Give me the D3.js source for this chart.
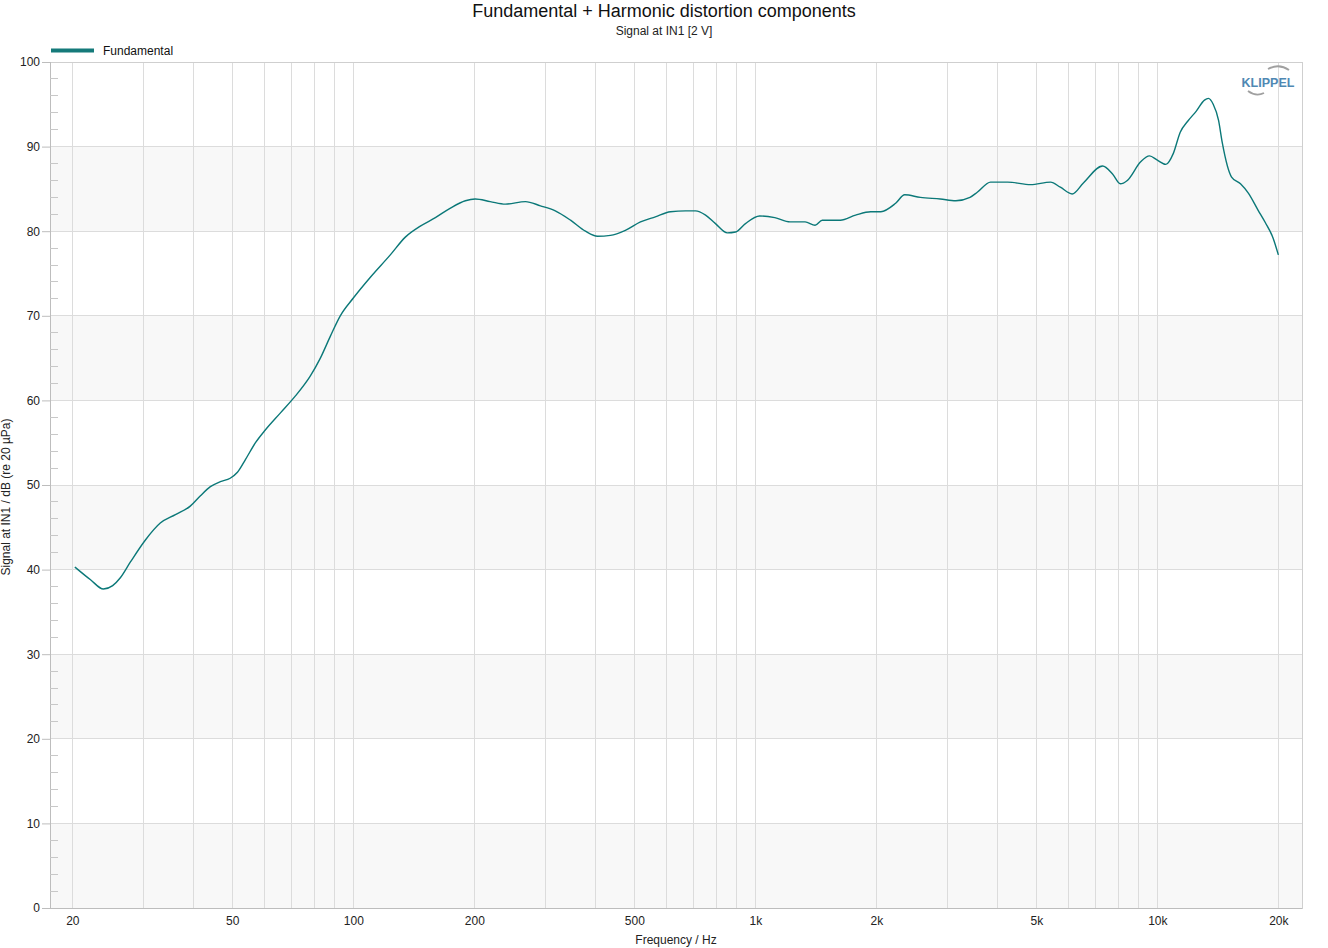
<!DOCTYPE html>
<html><head><meta charset="utf-8">
<script src="https://cdn.jsdelivr.net/npm/d3@7"></script>
<style>body{margin:0;background:#fff;}svg{display:block;font-family:"Liberation Sans",Arial,sans-serif;}</style>
</head><body>
<svg id="c" width="1328" height="948"></svg>
<script>
const freq = [20.3,22.2,23.9,25.2,26.3,27.9,30.4,33.1,36.1,39.3,41.6,44.1,46.7,49.4,51.5,53.9,57.1,60.4,65.8,71.7,78.2,82.8,87.7,92.8,100,110,123.6,134.7,146.8,160,174,190,201,219,239,268,292,318,347,378,405,436,475,518,564,615,671,710,752,796,852,893,945,1025,1118,1220,1330,1408,1467,1627,1776,1937,2052,2234,2353,2573,2885,3153,3420,3565,3847,4245,4840,5425,5737,6140,6546,7310,7727,8090,8420,9090,9560,10000,10500,10960,11400,11900,12500,13100,13400,13770,14200,14500,15300,16100,16840,17800,18570,19400,20000];
const fundamental = [40.3,38.8,37.7,38.1,39.0,40.9,43.5,45.5,46.5,47.5,48.7,49.8,50.4,50.8,51.5,53.0,55.0,56.5,58.5,60.5,62.9,65.0,67.6,70.0,72.1,74.5,77.2,79.3,80.6,81.6,82.7,83.6,83.8,83.5,83.2,83.5,83.0,82.4,81.3,80.0,79.4,79.5,80.1,81.1,81.7,82.3,82.4,82.4,81.9,80.9,79.8,79.9,80.9,81.8,81.6,81.1,81.1,80.7,81.3,81.3,81.9,82.3,82.3,83.3,84.3,84.0,83.8,83.6,84.0,84.6,85.8,85.8,85.5,85.8,85.2,84.4,85.7,87.7,86.8,85.6,86.0,88.2,88.9,88.4,87.9,89.2,91.7,93.0,94.2,95.5,95.7,95.0,93.1,90.5,86.4,85.6,84.5,82.5,81.0,79.2,77.2];
const xTickValues = [20,50,100,200,500,1000,2000,5000,10000,20000];
const xTickLabels = ["20","50","100","200","500","1k","2k","5k","10k","20k"];
const yTickValues = [0,10,20,30,40,50,60,70,80,90,100];

const svg = d3.select("#c");
const L=50, R=1302, T=62, B=908;
const x = d3.scaleLog().domain([17.6, 22900]).range([L, R]);
const y = d3.scaleLinear().domain([0, 100]).range([B, T]);

// bands
const bands = [0,20,40,60,80];
svg.append("g").selectAll("rect").data(bands).join("rect")
  .attr("x", L).attr("width", R-L)
  .attr("y", d=>y(d+10)).attr("height", d=>y(d)-y(d+10))
  .attr("fill", "#f8f8f8");

// vertical grid
const grid = [];
for (let dec of [10,100,1000,10000]) for (let m=1;m<10;m++){ const v=dec*m; if (v>=20 && v<=20000) grid.push(v); }
grid.push(20000);
svg.append("g").selectAll("line").data(grid).join("line")
  .attr("x1", d=>x(d)).attr("x2", d=>x(d)).attr("y1", T).attr("y2", B)
  .attr("stroke", "#dcdcdc").attr("stroke-width", 1).attr("shape-rendering","crispEdges");
// horizontal grid
svg.append("g").selectAll("line").data(yTickValues).join("line")
  .attr("x1", L).attr("x2", R).attr("y1", d=>y(d)).attr("y2", d=>y(d))
  .attr("stroke", "#dcdcdc").attr("shape-rendering","crispEdges");

// frame
svg.append("rect").attr("x", L).attr("y", T).attr("width", R-L).attr("height", B-T)
  .attr("fill","none").attr("stroke","#cfcfcf").attr("shape-rendering","crispEdges");
svg.append("line").attr("x1",L).attr("x2",L).attr("y1",T).attr("y2",B).attr("stroke","#bdbdbd").attr("shape-rendering","crispEdges");
svg.append("line").attr("x1",L).attr("x2",R).attr("y1",B).attr("y2",B).attr("stroke","#bdbdbd").attr("shape-rendering","crispEdges");

// minor y ticks
const minor = d3.range(2,100,2).filter(d=>d%10!==0);
svg.append("g").selectAll("line").data(minor).join("line")
  .attr("x1", L).attr("x2", L+8).attr("y1", d=>y(d)).attr("y2", d=>y(d))
  .attr("stroke", "#c8c8c8").attr("shape-rendering","crispEdges");

// y axis
const yAxis = d3.axisLeft(y).tickValues(yTickValues).tickSize(8).tickPadding(2).tickFormat(d3.format("d"));
const gy = svg.append("g").attr("transform",`translate(${L},0)`).call(yAxis);
gy.select(".domain").remove();
gy.selectAll("line").attr("stroke","#bdbdbd");
gy.selectAll("text").attr("font-size",12).attr("fill","#222").attr("font-family","Liberation Sans, Arial, sans-serif");

// x axis
const xAxis = d3.axisBottom(x).tickValues(xTickValues).tickSize(0).tickPadding(8)
  .tickFormat((d,i)=>xTickLabels[i]);
const gx = svg.append("g").attr("transform",`translate(0,${B})`).call(xAxis);
gx.select(".domain").remove();
gx.selectAll("text").attr("font-size",12).attr("fill","#222").attr("font-family","Liberation Sans, Arial, sans-serif");

// line
const line = d3.line().x((d,i)=>x(freq[i])).y(d=>y(d)).curve(d3.curveMonotoneX);
svg.append("path").datum(fundamental).attr("d", line)
  .attr("fill","none").attr("stroke","#0b7878").attr("stroke-width",1.4);

// titles
svg.append("text").attr("x",664).attr("y",17).attr("text-anchor","middle")
  .attr("font-size",18).attr("fill","#111").text("Fundamental + Harmonic distortion components");
svg.append("text").attr("x",664).attr("y",35).attr("text-anchor","middle")
  .attr("font-size",12).attr("fill","#222").text("Signal at IN1 [2 V]");
svg.append("text").attr("x",676).attr("y",944).attr("text-anchor","middle")
  .attr("font-size",12).attr("fill","#222").text("Frequency / Hz");
svg.append("text").attr("transform","translate(10,497) rotate(-90)").attr("text-anchor","middle")
  .attr("font-size",12).attr("fill","#222").text("Signal at IN1 / dB (re 20 µPa)");

// legend
svg.append("line").attr("x1",51).attr("x2",94).attr("y1",50.5).attr("y2",50.5)
  .attr("stroke","#157a7a").attr("stroke-width",4);
svg.append("text").attr("x",103).attr("y",55).attr("font-size",12).attr("fill","#111").text("Fundamental");

// logo
const lg = svg.append("g");
lg.append("text").attr("x",1268).attr("y",87).attr("text-anchor","middle")
  .attr("font-size",12.5).attr("font-weight","bold").attr("fill","#4f88b3").text("KLIPPEL");
lg.append("path").attr("d","M1268,69 Q1279,63 1289,70").attr("fill","none").attr("stroke","#a0a0a0").attr("stroke-width",1.8);
lg.append("path").attr("d","M1248,91 Q1256,97 1264,93").attr("fill","none").attr("stroke","#a0a0a0").attr("stroke-width",1.8);
</script>
</body></html>
